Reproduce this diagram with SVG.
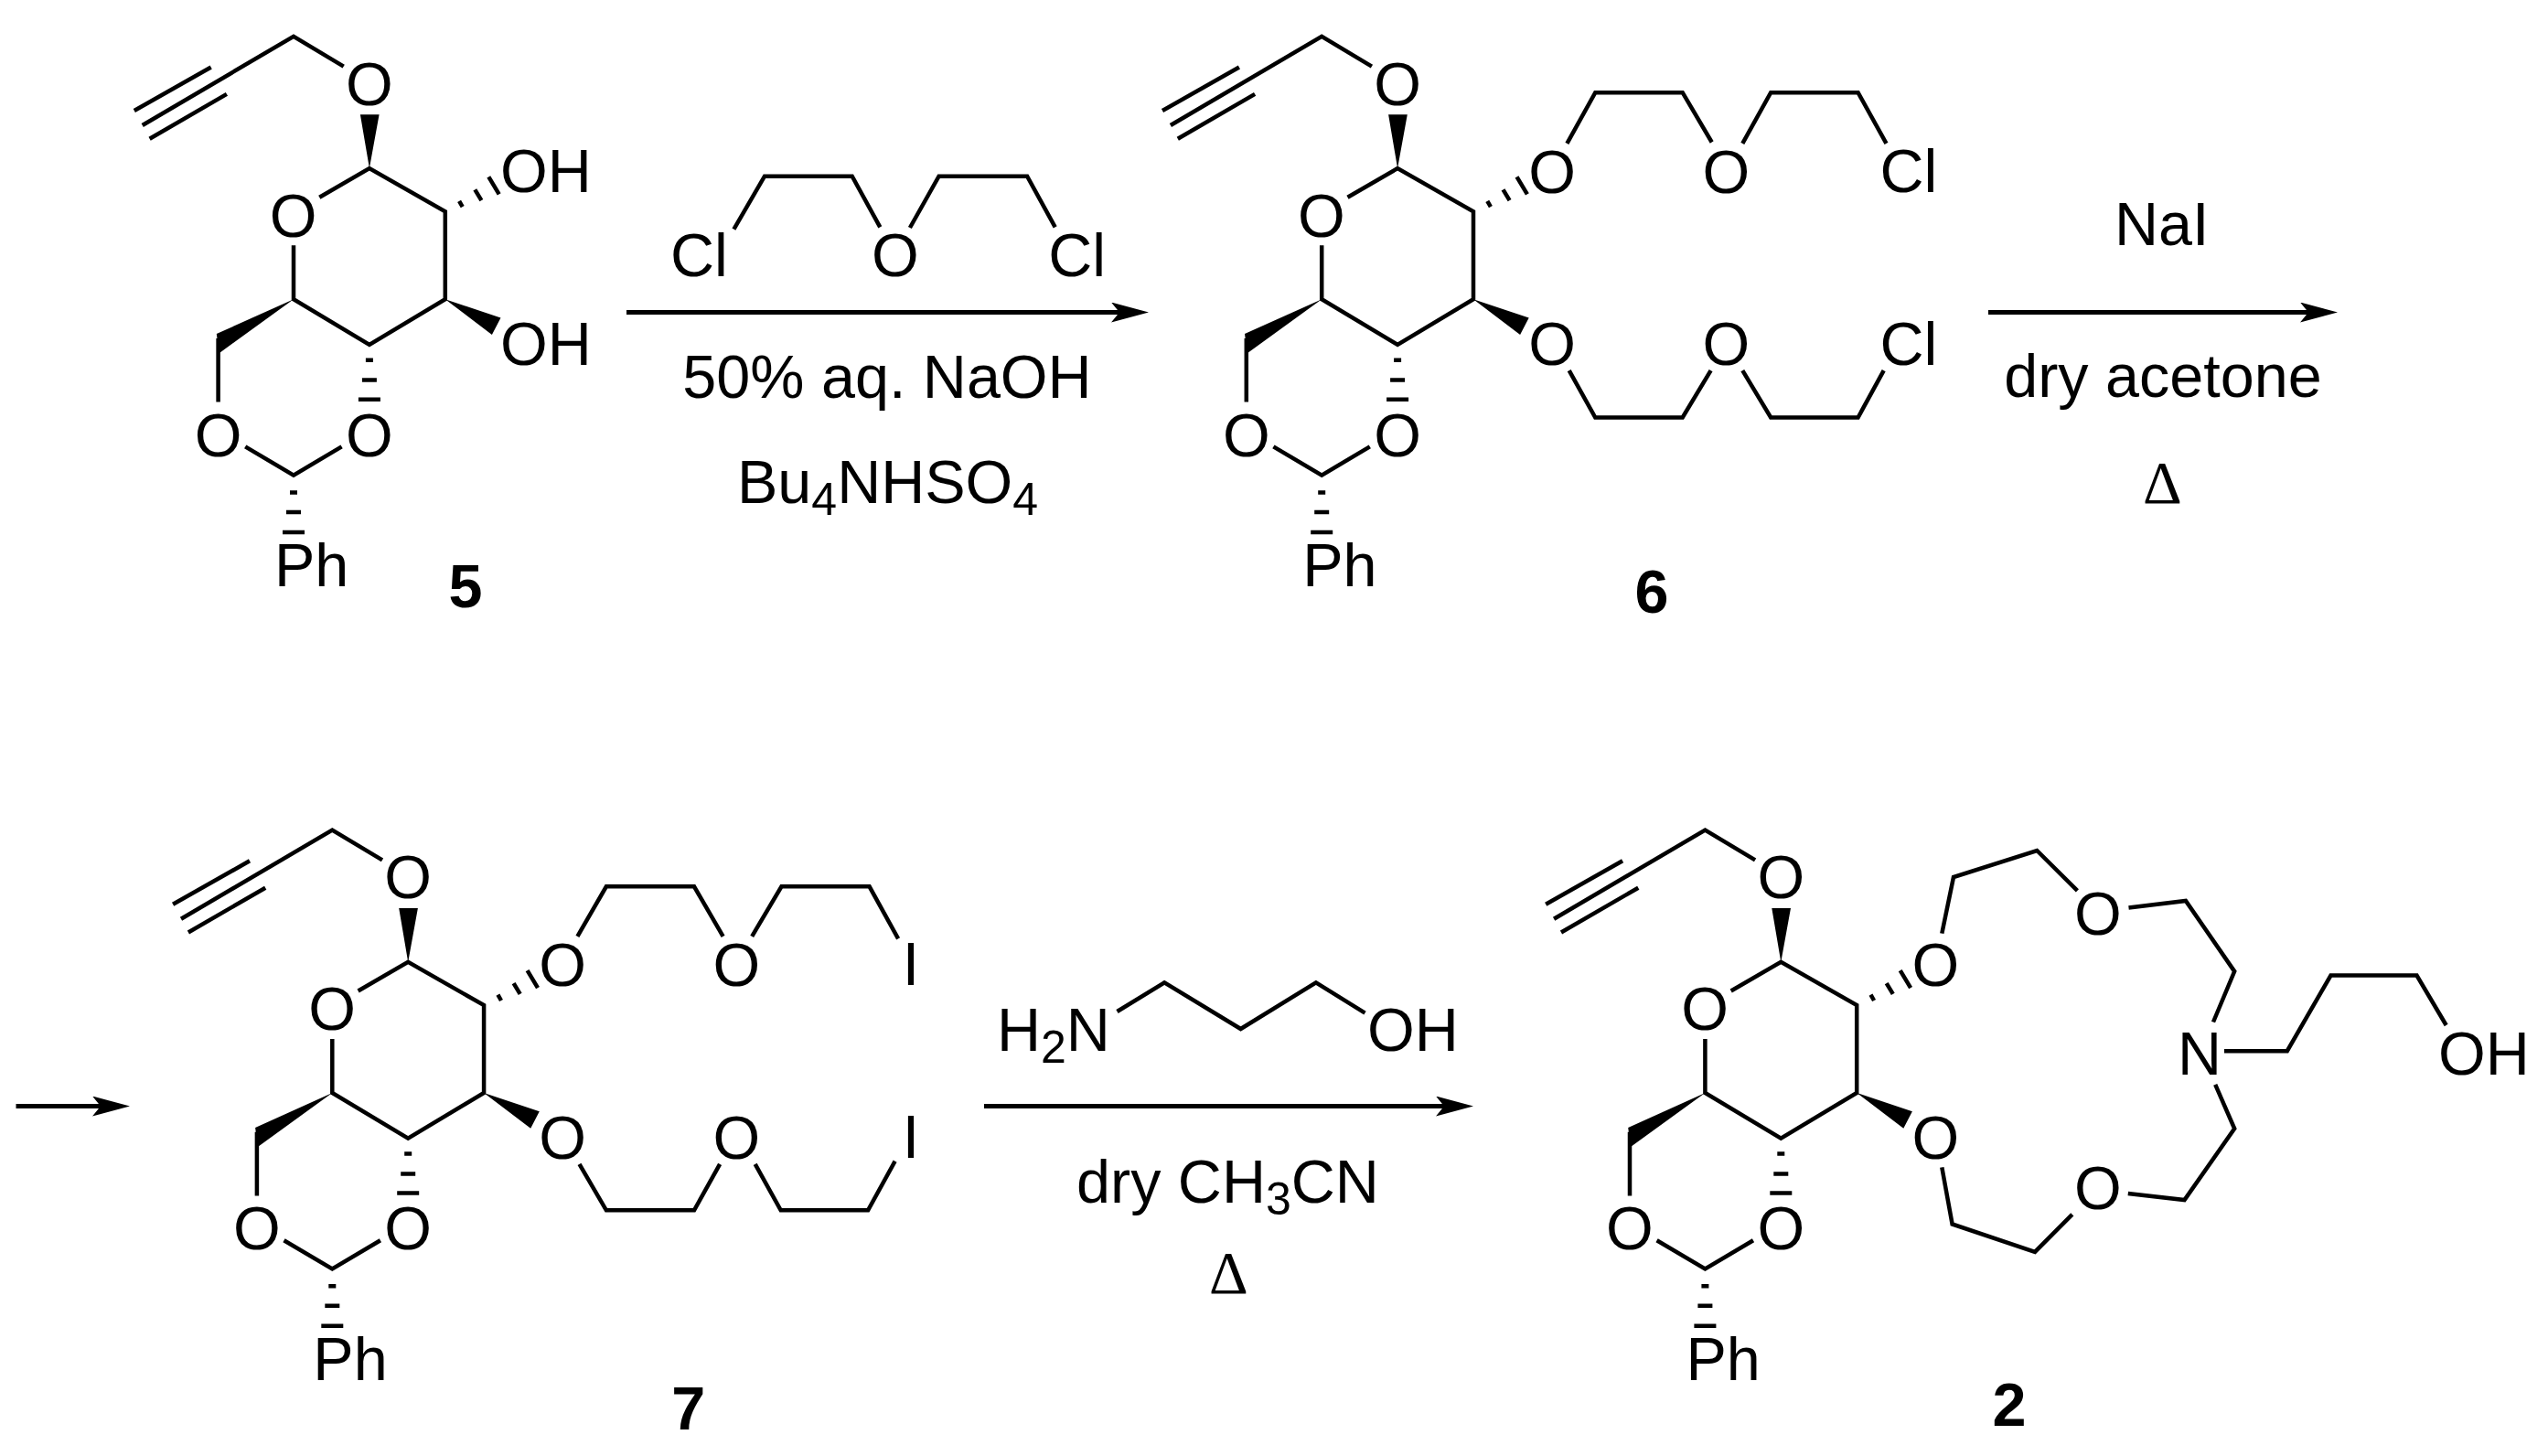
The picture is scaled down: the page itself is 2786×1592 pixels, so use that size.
<svg xmlns="http://www.w3.org/2000/svg" width="2786" height="1592" viewBox="0 0 2786 1592">
<style>
text{font-family:"Liberation Sans",Arial,sans-serif;font-size:66.5px;fill:#000}
.m{text-anchor:middle}
.num{font-weight:bold}
.d{font-family:"Liberation Serif","Times New Roman",serif}
.s{font-size:50px}
.b{fill:none;stroke:#000;stroke-width:4.5;stroke-linejoin:miter;stroke-linecap:butt}
.h{fill:none;stroke:#000;stroke-width:4.5}
.w{fill:#000;stroke:none}
.a{fill:none;stroke:#000;stroke-width:5;marker-end:url(#head)}
</style>
<defs>
<marker id="head" markerUnits="userSpaceOnUse" markerWidth="41" markerHeight="22" refX="9" refY="11" orient="auto"><path d="M0 0L41 11L0 22L9 11Z" fill="#000"/></marker>
</defs>
<rect width="2786" height="1592" fill="#fff"/>
<g id="connectors">
<path class="a" d="M685 341.5H1224"/>
<path class="a" d="M2174 341.5H2524"/>
<path class="a" d="M17.5 1209.5H110"/>
<path class="a" d="M1076 1209.5H1579"/>
</g>
<g id="compound-5">
<g>
<path class="b" d="M146.8 121L230.7 73.5M155.7 137L321 39.8L375.7 72.6M163.6 151.7L247.9 102.9M349.3 215.7L403.9 184.1L486.8 231.3V327.2L403.9 376.9L321 327.2V268.3M238.6 370V439.6M268.2 488.4L321 519.6L373.6 488.4"/>
<path class="w" d="M403.9 184.1L393.9 125.2H414.6ZM486.8 327.2L547.5 347.4L537.9 366ZM321 327.2L236.8 365.1L239.6 386.2Z"/>
<path class="h" d="M502.1 219.9L505.7 226.2M519.3 207.3L526.4 219.1M534.3 193.4L545.7 212.3M399.9 393.7H407.9M395.9 415.6H411.9M391.9 436.7H415.9M317 538.5H325M313 560H329M309 581.9H333"/>
<text class="m" x="403.9" y="114.5">O</text><text class="m" x="320.7" y="258.5">O</text><text class="m" x="238.6" y="498.5">O</text><text class="m" x="403.9" y="498.5">O</text><text x="300" y="640.8">Ph</text>
</g>
<text x="547" y="210">OH</text><text x="547" y="398.8">OH</text>
<text class="m num" x="509" y="664">5</text>
</g>
<g id="reagent-chloroether">
<path class="b" d="M802.4 250.7L836 192.7H931.7L962.3 248.3M994.9 249L1026.6 192.7H1123.1L1153.7 248.3"/>
<text x="733" y="301.7">Cl</text><text class="m" x="978.8" y="302">O</text><text x="1146.2" y="301.7">Cl</text>
</g>
<g id="conditions-1">
<text class="m" x="970" y="435">50% aq. NaOH</text>
<text x="806" y="550">Bu<tspan class="s" dy="13">4</tspan><tspan dy="-13">NHSO</tspan><tspan class="s" dy="13">4</tspan></text>
</g>
<g id="compound-6">
<g transform="translate(1124.2 0)">
<path class="b" d="M146.8 121L230.7 73.5M155.7 137L321 39.8L375.7 72.6M163.6 151.7L247.9 102.9M349.3 215.7L403.9 184.1L486.8 231.3V327.2L403.9 376.9L321 327.2V268.3M238.6 370V439.6M268.2 488.4L321 519.6L373.6 488.4"/>
<path class="w" d="M403.9 184.1L393.9 125.2H414.6ZM486.8 327.2L547.5 347.4L537.9 366ZM321 327.2L236.8 365.1L239.6 386.2Z"/>
<path class="h" d="M502.1 219.9L505.7 226.2M519.3 207.3L526.4 219.1M534.3 193.4L545.7 212.3M399.9 393.7H407.9M395.9 415.6H411.9M391.9 436.7H415.9M317 538.5H325M313 560H329M309 581.9H333"/>
<text class="m" x="403.9" y="114.5">O</text><text class="m" x="320.7" y="258.5">O</text><text class="m" x="238.6" y="498.5">O</text><text class="m" x="403.9" y="498.5">O</text><text x="300" y="640.8">Ph</text>
</g>
<path class="b" d="M1713.4 156.8L1744.3 101.2H1839.7L1871.7 155.5M1905.3 156.8L1936.2 101.2H2031.6L2062.5 156.8M1715.7 405.1L1744.3 456.5H1839.7L1870.6 405.1M1905.3 405.1L1936.2 456.5H2031.6L2059.7 405.1"/>
<text class="m" x="1697" y="210.5">O</text><text class="m" x="1887.4" y="210.5">O</text><text x="2055.5" y="210">Cl</text>
<text class="m" x="1697" y="399">O</text><text class="m" x="1887.4" y="399">O</text><text x="2055.5" y="398.8">Cl</text>
<text class="m num" x="1806" y="670">6</text>
</g>
<g id="conditions-2">
<text x="2312" y="268">NaI</text>
<text class="m" x="2365" y="434.3">dry acetone</text>
<text class="m d" x="2364.5" y="550">Δ</text>
</g>
<g id="compound-7">
<g transform="translate(42.3 867.8)">
<path class="b" d="M146.8 121L230.7 73.5M155.7 137L321 39.8L375.7 72.6M163.6 151.7L247.9 102.9M349.3 215.7L403.9 184.1L486.8 231.3V327.2L403.9 376.9L321 327.2V268.3M238.6 370V439.6M268.2 488.4L321 519.6L373.6 488.4"/>
<path class="w" d="M403.9 184.1L393.9 125.2H414.6ZM486.8 327.2L547.5 347.4L537.9 366ZM321 327.2L236.8 365.1L239.6 386.2Z"/>
<path class="h" d="M502.1 219.9L505.7 226.2M519.3 207.3L526.4 219.1M534.3 193.4L545.7 212.3M399.9 393.7H407.9M395.9 415.6H411.9M391.9 436.7H415.9M317 538.5H325M313 560H329M309 581.9H333"/>
<text class="m" x="403.9" y="114.5">O</text><text class="m" x="320.7" y="258.5">O</text><text class="m" x="238.6" y="498.5">O</text><text class="m" x="403.9" y="498.5">O</text><text x="300" y="640.8">Ph</text>
</g>
<path class="b" d="M631.4 1023.8L662.9 969.3H759L790.6 1023.8M822.2 1023.8L854.5 969.3H950.6L982.1 1026.4M633.5 1272.9L662.9 1323.3H759L787.1 1272.9M825.7 1272.9L853.7 1323.3H949.1L978.6 1269.7"/>
<text class="m" x="615.2" y="1078">O</text><text class="m" x="805.3" y="1078">O</text><text class="m" x="996" y="1077.4">I</text>
<text class="m" x="615.2" y="1267">O</text><text class="m" x="805.3" y="1267">O</text><text class="m" x="996" y="1266.4">I</text>
<text class="m num" x="752.7" y="1563">7</text>
</g>
<g id="reagent-aminopropanol">
<path class="b" d="M1221.5 1106L1273.2 1074.3L1356.6 1125L1438.9 1074.3L1492.5 1107.7"/>
<text x="1090" y="1149.3">H<tspan class="s" dy="13">2</tspan><tspan dy="-13">N</tspan></text>
<text x="1495" y="1149.3">OH</text>
</g>
<g id="conditions-3">
<text x="1177" y="1315">dry CH<tspan class="s" dy="13">3</tspan><tspan dy="-13">CN</tspan></text>
<text class="m d" x="1343.5" y="1414">Δ</text>
</g>
<g id="compound-2">
<g transform="translate(1543.4 867.8)">
<path class="b" d="M146.8 121L230.7 73.5M155.7 137L321 39.8L375.7 72.6M163.6 151.7L247.9 102.9M349.3 215.7L403.9 184.1L486.8 231.3V327.2L403.9 376.9L321 327.2V268.3M238.6 370V439.6M268.2 488.4L321 519.6L373.6 488.4"/>
<path class="w" d="M403.9 184.1L393.9 125.2H414.6ZM486.8 327.2L547.5 347.4L537.9 366ZM321 327.2L236.8 365.1L239.6 386.2Z"/>
<path class="h" d="M502.1 219.9L505.7 226.2M519.3 207.3L526.4 219.1M534.3 193.4L545.7 212.3M399.9 393.7H407.9M395.9 415.6H411.9M391.9 436.7H415.9M317 538.5H325M313 560H329M309 581.9H333"/>
<text class="m" x="403.9" y="114.5">O</text><text class="m" x="320.7" y="258.5">O</text><text class="m" x="238.6" y="498.5">O</text><text class="m" x="403.9" y="498.5">O</text><text x="300" y="640.8">Ph</text>
</g>
<path class="b" d="M2123.3 1020.6L2136 959L2227.2 930L2271.4 973.8M2327.5 992.5L2389.9 984.9L2443.2 1062.1L2420 1117.5M2432 1149.2H2500.8L2548.5 1066.6H2642.5L2674.7 1121M2123.3 1276.4L2134.6 1338.5L2225 1368.8L2265.8 1327.8M2326.8 1305L2388.5 1312.1L2443.2 1234L2422.2 1185.8"/>
<text class="m" x="2116.3" y="1078">O</text><text class="m" x="2293.8" y="1322">O</text>
<text class="m" x="2293.8" y="1022">O</text><text class="m" x="2116.3" y="1267">O</text>
<text class="m" x="2405" y="1174.6">N</text><text x="2666" y="1174.6">OH</text>
<text class="m num" x="2197" y="1558.6">2</text>
</g>
</svg>
